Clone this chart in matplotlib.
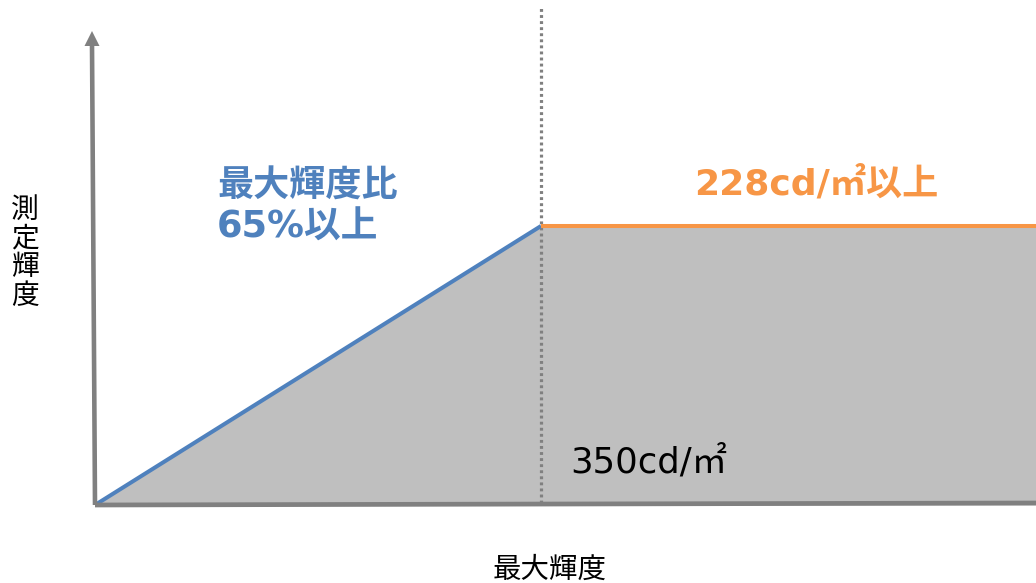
import matplotlib
matplotlib.use("Agg")
import matplotlib.pyplot as plt

# Luminance requirement: measured luminance must reach 65% of the maximum
# luminance, and at least 228 cd/㎡ once the maximum exceeds 350 cd/㎡.
ramp_x = [0, 350]          # 最大輝度 (cd/㎡)
ramp_y = [0, 228]          # 測定輝度 (cd/㎡)
plateau_level = 228        # cd/㎡
knee_luminance = 350       # cd/㎡
ratio_label = "最大輝度比\n65%以上"
plateau_label = "228cd/㎡以上"
knee_label = "350cd/㎡"
x_title = "最大輝度"
y_title = "測定輝度"

W, H = 1036, 583
fig = plt.figure(figsize=(W / 100, H / 100), dpi=100)
ax = fig.add_axes([0, 0, 1, 1])
ax.set_axis_off()

# scale: 446 px per 350 cd/㎡ horizontally, 279 px per 228 cd/㎡ vertically
ox, oy = 95, 505
sx = 446 / knee_luminance
sy = 279 / plateau_level
x_left, x_right = -ox / sx, (W - ox) / sx
y_bottom, y_top = -(H - oy) / sy, oy / sy
ax.set_xlim(x_left, x_right)
ax.set_ylim(y_bottom, y_top)


def px(x, y):
    """pixel position (from top-left) -> data coordinates"""
    return (x - ox) / sx, (oy - y) / sy


GRAY = "#808080"
FILL = "#bfbfbf"
BLUE = "#4f81bd"
ORANGE = "#f79646"

# shaded acceptance region
fx = ramp_x + [x_right]
fy = ramp_y + [plateau_level]
ax.fill_between(fx, 0, fy, color=FILL, lw=0, zorder=1)

# dotted marker at the knee
ax.plot([knee_luminance, knee_luminance], [px(0, 503)[1], px(0, 8)[1]],
        color=GRAY, lw=2.3, ls=(0, (0.9, 1.0)), zorder=2)

# requirement lines
ax.plot(ramp_x, ramp_y, color=BLUE, lw=2.9, solid_capstyle="butt", zorder=3)
ax.plot([knee_luminance, x_right], [plateau_level, plateau_level],
        color=ORANGE, lw=2.9, solid_capstyle="butt", zorder=3)

# axes drawn by hand
ax.plot([0, x_right], [0, px(0, 503)[1]], color=GRAY, lw=3.4,
        solid_capstyle="butt", zorder=4)
top_x, _ = px(92, 0)
ax.plot([0, top_x], [0, px(0, 44)[1]], color=GRAY, lw=3.3,
        solid_capstyle="butt", zorder=4)
tri = [px(84.5, 46), px(99.5, 46), px(92, 31)]
ax.fill([p[0] for p in tri], [p[1] for p in tri], color=GRAY, lw=0, zorder=4)

LATIN_CJK = ["DejaVu Sans", "Noto Sans CJK JP"]


def ftext(x, y, s, **kw):
    fig.text(x / W, 1 - y / H, s, **kw)


lines = ratio_label.split("\n")
ftext(217, 187, lines[0], fontsize=26, fontweight="bold", color=BLUE,
      family=LATIN_CJK, ha="left", va="center")
ftext(217, 227, lines[1], fontsize=26.5, fontweight="bold", color=BLUE,
      family=LATIN_CJK, ha="left", va="center")
ftext(816, 184, plateau_label, fontsize=26, fontweight="bold", color=ORANGE,
      family=LATIN_CJK, ha="center", va="center")
ftext(649, 462, knee_label, fontsize=25.5, color="black",
      family=LATIN_CJK, ha="center", va="center")

ftext(550, 570, x_title, fontsize=20.5, color="black",
      family=["Noto Sans CJK JP"], ha="center", va="center")
for i, ch in enumerate(y_title):
    ftext(25, 210 + i * 28.5, ch, fontsize=20, color="black",
          family=["Noto Sans CJK JP"], ha="center", va="center")

fig.savefig("out.png", dpi=100)
